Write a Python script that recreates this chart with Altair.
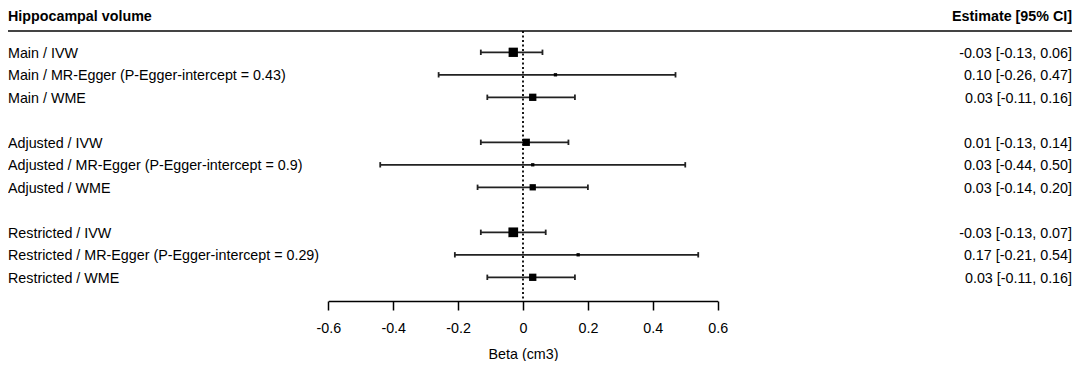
import altair as alt
import pandas as pd

labels = [
    "Main / IVW",
    "Main / MR-Egger (P-Egger-intercept = 0.43)",
    "Main / WME",
    "Adjusted / IVW",
    "Adjusted / MR-Egger (P-Egger-intercept = 0.9)",
    "Adjusted / WME",
    "Restricted / IVW",
    "Restricted / MR-Egger (P-Egger-intercept = 0.29)",
    "Restricted / WME",
]
rows = [0, 1, 2, 4, 5, 6, 8, 9, 10]
est = [-0.03, 0.10, 0.03, 0.01, 0.03, 0.03, -0.03, 0.17, 0.03]
lo = [-0.13, -0.26, -0.11, -0.13, -0.44, -0.14, -0.13, -0.21, -0.11]
hi = [0.06, 0.47, 0.16, 0.14, 0.50, 0.20, 0.07, 0.54, 0.16]
ci_text = [
    "-0.03 [-0.13, 0.06]",
    "0.10 [-0.26, 0.47]",
    "0.03 [-0.11, 0.16]",
    "0.01 [-0.13, 0.14]",
    "0.03 [-0.44, 0.50]",
    "0.03 [-0.14, 0.20]",
    "-0.03 [-0.13, 0.07]",
    "0.17 [-0.21, 0.54]",
    "0.03 [-0.11, 0.16]",
]
box = [9.3, 3.3, 7.3, 7.3, 3.3, 6.3, 9.7, 3.3, 7.3]  # box side (weight)
ticks = [-0.6, -0.4, -0.2, 0, 0.2, 0.4, 0.6]
header_left = "Hippocampal volume"
header_right = "Estimate [95% CI]"
x_title = "Beta (cm3)"

df = pd.DataFrame({"label": labels, "row": rows, "est": est, "lo": lo, "hi": hi,
                   "txt": ci_text, "box": box})

FONT = "Liberation Sans"
FS = 14.3
W = 1064
H = 293

xs = alt.Scale(domain=[-0.6, 0.6], range=[320.3, 709.7], nice=False, zero=False)
ys = alt.Scale(domain=[0, 10], range=[44.3, 269.3], nice=False, zero=False)
ax = alt.Axis(values=ticks, title=x_title,
              labelExpr="datum.value == 0 ? '0' : toString(round(datum.value * 10) / 10)",
              grid=False, domainColor="black", domainWidth=1.5, tickColor="black",
              tickWidth=1.5, tickSize=9, labelFont=FONT, labelFontSize=FS,
              labelColor="black", labelBaseline="alphabetic", labelPadding=22.7,
              labelFlush=False, labelOverlap=False,
              titleFont=FONT, titleFontSize=FS, titleFontWeight="normal",
              titleColor="black", titleBaseline="alphabetic", titleY=57.3)


def X(field):
    return alt.X(field, type="quantitative", scale=xs, axis=ax, title=x_title)


Y = alt.Y("row:Q", scale=ys, axis=None)

base = alt.Chart(df)

ci = base.mark_rule(color="#222", strokeWidth=1.8).encode(
    x=X("lo"), x2="hi", y=Y)
cap_lo = base.mark_rule(color="#222", strokeWidth=1.8, yOffset=-2.7, y2Offset=2.7).encode(
    x=X("lo"), y=Y, y2="row:Q")
cap_hi = base.mark_rule(color="#222", strokeWidth=1.8, yOffset=-2.7, y2Offset=2.7).encode(
    x=X("hi"), y=Y, y2="row:Q")
boxes = base.transform_calculate(area="datum.box * datum.box").mark_square(
    color="black", filled=True, opacity=1).encode(
    x=X("est"), y=Y, size=alt.Size("area:Q", scale=None, legend=None))

zero_line = alt.Chart(pd.DataFrame({"z": [0]})).mark_rule(
    color="black", strokeWidth=1.8, strokeDash=[2, 2.5]).encode(
    x=X("z"), y=alt.value(23), y2=alt.value(H))

left_txt = base.mark_text(align="left", baseline="alphabetic", dy=5.2,
                          font=FONT, fontSize=FS, color="black").encode(
    x=alt.value(0), y=Y, text="label:N")
right_txt = base.mark_text(align="right", baseline="alphabetic", dy=5.2,
                           font=FONT, fontSize=FS, color="black").encode(
    x=alt.value(W), y=Y, text="txt:N")

hdr = pd.DataFrame({"t": [header_left, header_right], "side": ["l", "r"]})
hdr_l = alt.Chart(hdr).transform_filter("datum.side == 'l'").mark_text(
    align="left", baseline="alphabetic", font=FONT, fontSize=FS, fontWeight="bold",
    color="black").encode(x=alt.value(0), y=alt.value(13), text="t:N")
hdr_r = alt.Chart(hdr).transform_filter("datum.side == 'r'").mark_text(
    align="right", baseline="alphabetic", font=FONT, fontSize=FS, fontWeight="bold",
    color="black").encode(x=alt.value(W), y=alt.value(13), text="t:N")
hdr_line = alt.Chart(hdr).transform_filter("datum.side == 'l'").mark_rule(
    color="#444", strokeWidth=2).encode(x=alt.value(0), x2=alt.value(W), y=alt.value(23))

chart = alt.layer(hdr_line, zero_line, ci, cap_lo, cap_hi, boxes, left_txt, right_txt,
                  hdr_l, hdr_r).properties(
    width=W, height=H,
    autosize=alt.AutoSizeParams(type="none"),
    padding={"left": 0, "top": 0, "right": 0, "bottom": 60},
    background="white",
).configure_view(stroke=None)

chart.save("out.html", embed_options={"renderer": "svg", "actions": False})
